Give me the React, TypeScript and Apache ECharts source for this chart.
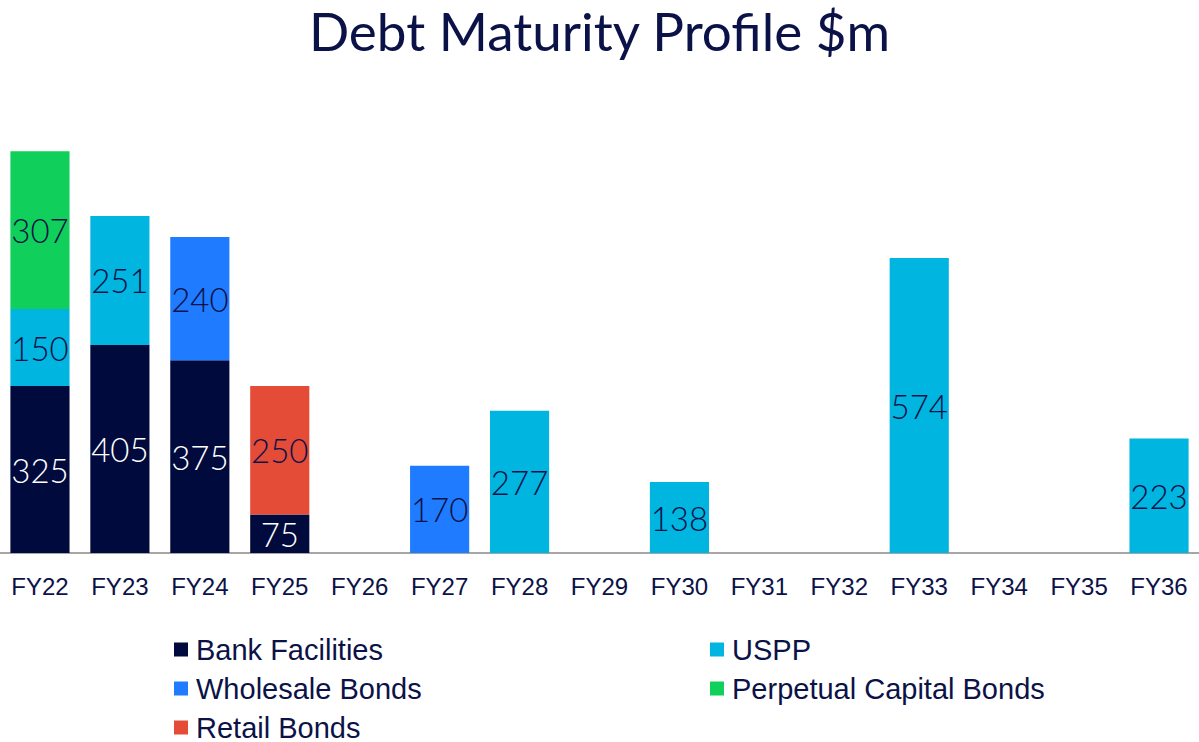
import React, { useEffect, useRef } from "react";
import * as echarts from "echarts";

const categories = ["FY22","FY23","FY24","FY25","FY26","FY27","FY28","FY29","FY30","FY31","FY32","FY33","FY34","FY35","FY36"];
const bankFacilities = [325, 405, 375, 75, null, null, null, null, null, null, null, null, null, null, null];
const uspp = [150, 251, null, null, null, null, 277, null, 138, null, null, 574, null, null, 223];
const wholesaleBonds = [null, null, 240, null, null, 170, null, null, null, null, null, null, null, null, null];
const perpetualCapitalBonds = [307, null, null, null, null, null, null, null, null, null, null, null, null, null, null];
const retailBonds = [null, null, null, 250, null, null, null, null, null, null, null, null, null, null, null];

const legendNames = ["Bank Facilities", "USPP", "Wholesale Bonds", "Perpetual Capital Bonds", "Retail Bonds"];

const NAVY = "#000a3c";
const TEXT = "#0b1247";

export default function App() {
  const ref = useRef<HTMLDivElement>(null);
  useEffect(() => {
    if (!ref.current) return;
    const chart = echarts.init(ref.current, null, { renderer: "svg" });
    const label = (color: string) => ({
      show: true,
      position: "inside",
      color,
      fontSize: 33,
      fontFamily: "Lato",
      fontWeight: 300,
    });
    const mk = (name: string, data: (number | null)[], color: string, lc: string) => ({
      name,
      type: "bar",
      stack: "total",
      data,
      barCategoryGap: "26%",
      itemStyle: { color },
      label: label(lc),
    });
    const legendText = { color: TEXT, fontSize: 29, lineHeight: 28, fontFamily: "Liberation Sans", padding: [0, 0, 0, 3] };
    const legendPos = [
      [174, 635],
      [710, 635],
      [174, 674],
      [710, 674],
      [174, 713],
    ];
    const legends = legendNames.map((n, i) => ({
      data: [n],
      left: legendPos[i][0],
      top: legendPos[i][1],
      padding: 0,
      itemWidth: 14,
      itemHeight: 14,
      itemGap: 0,
      icon: "rect",
      textStyle: legendText,
    }));
    chart.setOption({
      animation: false,
      title: {
        text: "Debt Maturity Profile $m",
        left: "center",
        top: 0,
        padding: 0,
        textStyle: { color: TEXT, fontSize: 53, fontWeight: "normal", fontFamily: "Lato", lineHeight: 60 },
      },
      grid: { left: 0, right: 0, top: 142, bottom: 189 },
      xAxis: {
        type: "category",
        data: categories,
        axisLine: { lineStyle: { color: "#a6a6a6", width: 2 } },
        axisTick: { show: false },
        axisLabel: { color: TEXT, fontSize: 24, fontFamily: "Liberation Sans", margin: 21 },
      },
      yAxis: {
        type: "value",
        min: 0,
        max: 800,
        show: false,
        splitLine: { show: false },
      },
      legend: legends,
      series: [
        mk("Bank Facilities", bankFacilities, NAVY, "#ffffff"),
        mk("USPP", uspp, "#00b5e0", TEXT),
        mk("Wholesale Bonds", wholesaleBonds, "#1f7bff", TEXT),
        mk("Perpetual Capital Bonds", perpetualCapitalBonds, "#10cf5a", TEXT),
        mk("Retail Bonds", retailBonds, "#e44c38", TEXT),
      ],
    });
    return () => chart.dispose();
  }, []);
  return (
    <div
      ref={ref}
      style={{ position: "fixed", left: 0, top: 0, width: 1199, height: 742, background: "#fff" }}
    />
  );
}
